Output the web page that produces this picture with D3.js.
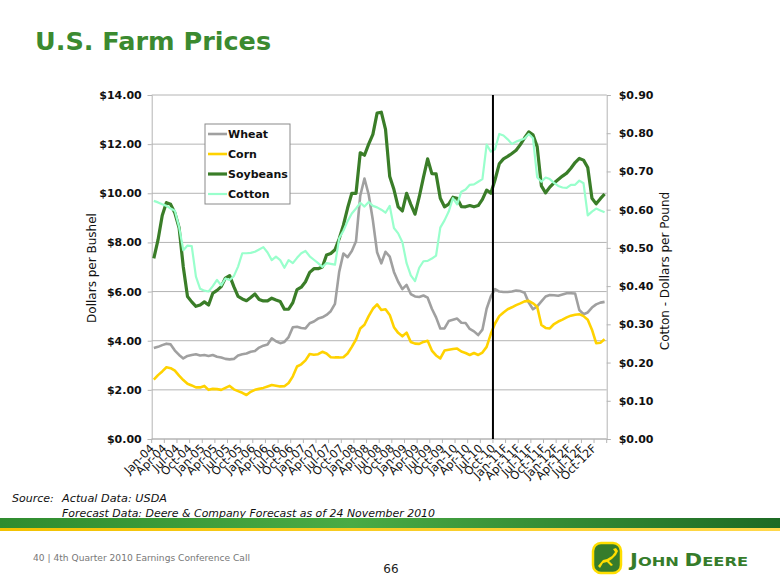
<!DOCTYPE html>
<html><head><meta charset="utf-8">
<script src="https://cdn.jsdelivr.net/npm/d3@7"></script>
<style>
body{margin:0;background:#fff;}
svg{display:block;font-family:"DejaVu Sans",Verdana,sans-serif;}
</style>
</head><body>
<svg id="c" width="780" height="585"></svg>
<script>
// ---------- DATA ----------
const months = [
 "Jan-04","Feb-04","Mar-04","Apr-04","May-04","Jun-04","Jul-04","Aug-04","Sep-04","Oct-04","Nov-04","Dec-04",
 "Jan-05","Feb-05","Mar-05","Apr-05","May-05","Jun-05","Jul-05","Aug-05","Sep-05","Oct-05","Nov-05","Dec-05",
 "Jan-06","Feb-06","Mar-06","Apr-06","May-06","Jun-06","Jul-06","Aug-06","Sep-06","Oct-06","Nov-06","Dec-06",
 "Jan-07","Feb-07","Mar-07","Apr-07","May-07","Jun-07","Jul-07","Aug-07","Sep-07","Oct-07","Nov-07","Dec-07",
 "Jan-08","Feb-08","Mar-08","Apr-08","May-08","Jun-08","Jul-08","Aug-08","Sep-08","Oct-08","Nov-08","Dec-08",
 "Jan-09","Feb-09","Mar-09","Apr-09","May-09","Jun-09","Jul-09","Aug-09","Sep-09","Oct-09","Nov-09","Dec-09",
 "Jan-10","Feb-10","Mar-10","Apr-10","May-10","Jun-10","Jul-10","Aug-10","Sep-10","Oct-10","Nov-10","Dec-10",
 "Jan-11F","Feb-11F","Mar-11F","Apr-11F","May-11F","Jun-11F","Jul-11F","Aug-11F","Sep-11F","Oct-11F","Nov-11F","Dec-11F",
 "Jan-12F","Feb-12F","Mar-12F","Apr-12F","May-12F","Jun-12F","Jul-12F","Aug-12F","Sep-12F","Oct-12F","Nov-12F","Dec-12F"
];
const tickLabels = [
 "Jan-04","Apr-04","Jul-04","Oct-04","Jan-05","Apr-05","Jul-05","Oct-05","Jan-06","Apr-06","Jul-06","Oct-06",
 "Jan-07","Apr-07","Jul-07","Oct-07","Jan-08","Apr-08","Jul-08","Oct-08","Jan-09","Apr-09","Jul-09","Oct-09",
 "Jan-10","Apr-10","Jul-10","Oct-10","Jan-11F","Apr-11F","Jul-11F","Oct-11F","Jan-12F","Apr-12F","Jul-12F","Oct-12F"
];
const forecastStart = "Oct-10";

const wheat = [
 3.70,3.75,3.82,3.88,3.85,3.60,3.42,3.28,3.38,3.42,3.45,3.40,
 3.42,3.38,3.42,3.35,3.32,3.26,3.24,3.26,3.40,3.45,3.48,3.55,
 3.58,3.72,3.80,3.85,4.10,3.98,3.90,3.95,4.15,4.55,4.57,4.52,
 4.50,4.71,4.78,4.90,4.95,5.05,5.20,5.50,6.80,7.55,7.40,7.65,
 8.05,9.90,10.60,9.95,8.90,7.60,7.15,7.62,7.42,6.80,6.40,6.10,
 6.27,5.90,5.80,5.78,5.84,5.75,5.30,4.95,4.50,4.50,4.80,4.85,
 4.90,4.73,4.72,4.48,4.38,4.23,4.45,5.30,5.80,6.10,6.00,5.98,
 5.98,6.00,6.04,6.02,5.95,5.55,5.28,5.40,5.60,5.80,5.86,5.85,
 5.83,5.88,5.93,5.93,5.92,5.25,5.08,5.15,5.35,5.48,5.55,5.58
];
const corn = [
 2.42,2.60,2.75,2.92,2.88,2.78,2.58,2.40,2.25,2.18,2.10,2.10,
 2.16,2.00,2.04,2.03,2.00,2.08,2.16,2.02,1.95,1.88,1.79,1.92,
 2.00,2.04,2.08,2.14,2.20,2.17,2.14,2.15,2.28,2.55,2.95,3.04,
 3.20,3.46,3.43,3.45,3.55,3.48,3.33,3.32,3.32,3.33,3.48,3.75,
 4.05,4.50,4.65,5.00,5.30,5.48,5.25,5.28,5.05,4.55,4.32,4.18,
 4.33,3.95,3.88,3.87,3.95,4.00,3.60,3.40,3.28,3.60,3.63,3.66,
 3.68,3.56,3.50,3.42,3.50,3.42,3.52,3.75,4.28,4.70,5.00,5.15,
 5.28,5.36,5.45,5.52,5.60,5.62,5.52,5.38,4.64,4.52,4.50,4.68,
 4.78,4.86,4.95,5.02,5.06,5.08,5.00,4.85,4.45,3.90,3.92,4.06
];
const soybeans = [
 7.35,8.10,9.10,9.62,9.55,9.20,8.60,7.00,5.80,5.58,5.40,5.45,
 5.58,5.45,5.93,6.05,6.20,6.55,6.65,6.20,5.80,5.70,5.63,5.76,
 5.90,5.68,5.62,5.62,5.73,5.66,5.60,5.28,5.28,5.55,6.08,6.18,
 6.40,6.78,6.93,6.93,7.00,7.49,7.55,7.70,8.15,8.70,9.40,10.00,
 10.00,11.65,11.55,12.00,12.40,13.26,13.30,12.60,10.68,10.15,9.45,9.28,
 10.00,9.55,9.15,9.85,10.65,11.40,10.80,10.79,9.80,9.45,9.56,9.84,
 9.80,9.46,9.45,9.50,9.45,9.50,9.75,10.13,10.00,10.55,11.20,11.40,
 11.50,11.62,11.75,11.98,12.25,12.50,12.38,11.90,10.30,10.02,10.25,10.42,
 10.56,10.70,10.82,11.02,11.25,11.42,11.35,11.05,9.80,9.57,9.78,9.97
];
const cotton = [
 0.623,0.619,0.614,0.610,0.603,0.597,0.555,0.494,0.506,0.505,0.425,0.393,
 0.388,0.386,0.400,0.416,0.402,0.420,0.416,0.426,0.451,0.486,0.486,0.487,
 0.490,0.496,0.502,0.488,0.468,0.477,0.468,0.448,0.468,0.460,0.474,0.486,
 0.492,0.478,0.469,0.460,0.450,0.460,0.458,0.456,0.525,0.545,0.570,0.590,
 0.603,0.618,0.608,0.620,0.610,0.606,0.600,0.592,0.610,0.552,0.538,0.515,
 0.460,0.428,0.413,0.448,0.465,0.466,0.472,0.480,0.553,0.572,0.595,0.630,
 0.614,0.647,0.653,0.665,0.666,0.673,0.680,0.770,0.752,0.758,0.798,0.794,
 0.784,0.772,0.778,0.782,0.786,0.798,0.787,0.685,0.673,0.684,0.680,0.670,
 0.662,0.658,0.657,0.665,0.665,0.676,0.669,0.585,0.595,0.603,0.598,0.593
];
const leftTicks = [0,2,4,6,8,10,12,14];
const rightTicks = [0,0.1,0.2,0.3,0.4,0.5,0.6,0.7,0.8,0.9];
const seriesNames = ["Wheat","Corn","Soybeans","Cotton"];
const seriesColors = ["#a0a0a0","#ffd200","#3a7d28","#99ffcc"];
const seriesWidths = [2.6,2.6,3.2,2.2];

// ---------- CHART ----------
const svg = d3.select("#c");
const L = 151.7, R = 606.7, T = 95, B = 439;
const x = d3.scaleBand().domain(months).range([L, R]).padding(0);
const y = d3.scaleLinear().domain([0, 14]).range([B, T]);
const y2 = d3.scaleLinear().domain([0, 0.9]).range([B, T]);
const cx = m => x(m) + x.bandwidth() / 2;
const grid = "#b4b4b4";

// title
svg.append("text").attr("x", 35).attr("y", 50)
  .attr("font-size", 25.5).attr("font-weight", "bold").attr("fill", "#3b8a30")
  .text("U.S. Farm Prices");

// gridlines
svg.append("g").selectAll("line").data(leftTicks).join("line")
  .attr("x1", L).attr("x2", R).attr("y1", d => y(d)).attr("y2", d => y(d))
  .attr("stroke", grid).attr("stroke-width", 1);

// left axis
const ga = svg.append("g").attr("transform", `translate(${L},0)`)
  .call(d3.axisLeft(y).tickValues(leftTicks).tickSize(4).tickPadding(6)
    .tickFormat(d => "$" + d.toFixed(2)));
ga.select(".domain").attr("stroke", grid);
ga.selectAll(".tick line").attr("stroke", grid);
ga.selectAll("text").attr("font-size", 11).attr("font-weight", "bold")
  .attr("font-family", "DejaVu Sans").attr("fill", "#111");

// right axis
const gb = svg.append("g").attr("transform", `translate(${R},0)`)
  .call(d3.axisRight(y2).tickValues(rightTicks).tickSize(4).tickPadding(8)
    .tickFormat(d => "$" + d.toFixed(2)));
gb.select(".domain").attr("stroke", grid);
gb.selectAll(".tick line").attr("stroke", grid);
gb.selectAll("text").attr("font-size", 11).attr("font-weight", "bold")
  .attr("font-family", "DejaVu Sans").attr("fill", "#111");

// bottom axis line + ticks
svg.append("line").attr("x1", L).attr("x2", R).attr("y1", B).attr("y2", B)
  .attr("stroke", grid);
svg.append("g").selectAll("line").data(tickLabels).join("line")
  .attr("x1", d => x(d)).attr("x2", d => x(d)).attr("y1", B).attr("y2", B + 4)
  .attr("stroke", grid);
svg.append("line").attr("x1", R).attr("x2", R).attr("y1", B).attr("y2", B + 4).attr("stroke", grid);

// x labels
svg.append("g").selectAll("text").data(tickLabels).join("text")
  .attr("transform", d => `translate(${cx(d) + 1},${B + 10}) rotate(-45)`)
  .attr("text-anchor", "end").attr("font-size", 11.5).attr("fill", "#111")
  .text(d => d);

// axis titles
svg.append("text").attr("transform", "translate(96,268) rotate(-90)")
  .attr("text-anchor", "middle").attr("font-size", 12).attr("fill", "#111")
  .text("Dollars per Bushel");
svg.append("text").attr("transform", "translate(669,271) rotate(-90)")
  .attr("text-anchor", "middle").attr("font-size", 12).attr("fill", "#111")
  .text("Cotton - Dollars per Pound");

// series
const lineL = d3.line().x((d, i) => cx(months[i])).y(d => y(d));
const lineR = d3.line().x((d, i) => cx(months[i])).y(d => y2(d));
const seriesData = [wheat, corn, soybeans, cotton];
seriesData.forEach((s, k) => {
  svg.append("path").datum(s)
    .attr("d", k === 3 ? lineR : lineL)
    .attr("fill", "none").attr("stroke", seriesColors[k])
    .attr("stroke-width", seriesWidths[k]).attr("stroke-linejoin", "round");
});

// forecast divider
svg.append("line").attr("x1", x(forecastStart)).attr("x2", x(forecastStart))
  .attr("y1", T).attr("y2", B).attr("stroke", "#000").attr("stroke-width", 2);

// legend
const lg = svg.append("g");
lg.append("rect").attr("x", 205).attr("y", 124).attr("width", 85).attr("height", 80)
  .attr("fill", "#fff").attr("stroke", "#8a8a8a");
seriesNames.forEach((n, k) => {
  const yy = 134 + k * 20;
  lg.append("line").attr("x1", 208).attr("x2", 227).attr("y1", yy).attr("y2", yy)
    .attr("stroke", seriesColors[k]).attr("stroke-width", seriesWidths[k]);
  lg.append("text").attr("x", 228).attr("y", yy + 4).attr("font-size", 11)
    .attr("font-weight", "bold").attr("fill", "#111").text(n);
});

// source
svg.append("text").attr("x", 12).attr("y", 502).attr("font-size", 11)
  .attr("font-style", "italic").attr("fill", "#111")
  .text("Source:");
svg.append("text").attr("x", 62).attr("y", 502).attr("font-size", 11)
  .attr("font-style", "italic").attr("fill", "#111")
  .attr("textLength", 105).attr("lengthAdjust", "spacingAndGlyphs")
  .text("Actual Data: USDA");
svg.append("text").attr("x", 62).attr("y", 517).attr("font-size", 11)
  .attr("font-style", "italic").attr("fill", "#111")
  .attr("textLength", 373).attr("lengthAdjust", "spacingAndGlyphs")
  .text("Forecast Data: Deere & Company Forecast as of 24 November 2010");

// footer band
const defs = svg.append("defs");
const g1 = defs.append("linearGradient").attr("id", "band");
g1.append("stop").attr("offset", "0%").attr("stop-color", "#2f8c2f");
g1.append("stop").attr("offset", "45%").attr("stop-color", "#4aab45");
g1.append("stop").attr("offset", "100%").attr("stop-color", "#1d6a24");
const g2 = defs.append("linearGradient").attr("id", "yband");
g2.append("stop").attr("offset", "0%").attr("stop-color", "#f2c200");
g2.append("stop").attr("offset", "100%").attr("stop-color", "#ffd84a");
svg.append("rect").attr("x", 0).attr("y", 518).attr("width", 780).attr("height", 10).attr("fill", "url(#band)");
svg.append("rect").attr("x", 0).attr("y", 528).attr("width", 780).attr("height", 3).attr("fill", "url(#yband)");

svg.append("text").attr("x", 33).attr("y", 561).attr("font-size", 9).attr("fill", "#777")
  .attr("textLength", 217).attr("lengthAdjust", "spacingAndGlyphs")
  .text("40  |  4th Quarter 2010 Earnings Conference Call");
svg.append("text").attr("x", 391).attr("y", 573).attr("font-size", 12).attr("text-anchor", "middle")
  .attr("fill", "#222").text("66");

// John Deere logo
const lo = svg.append("g");
lo.append("rect").attr("x", 593).attr("y", 543).attr("width", 28).attr("height", 30).attr("rx", 8)
  .attr("fill", "#367c2b").attr("stroke", "#ffde00").attr("stroke-width", 2.5);
lo.append("path").attr("fill", "#ffde00")
  .attr("d", "M598,566 L603,560 L607,559 L612,556 L615,552 L613,549 L616,548 L618,551 L616,555 L612,559 L609,561 L613,565 L611,566 L607,562 L603,563 L600,568 Z");
const jd = svg.append("text").attr("x", 630).attr("y", 566).attr("font-weight", "bold")
  .attr("fill", "#367c2b").attr("textLength", 118).attr("lengthAdjust", "spacingAndGlyphs");
jd.append("tspan").attr("font-size", 17).text("J");
jd.append("tspan").attr("font-size", 13).text("OHN ");
jd.append("tspan").attr("font-size", 17).text("D");
jd.append("tspan").attr("font-size", 13).text("EERE");
</script>
</body></html>
